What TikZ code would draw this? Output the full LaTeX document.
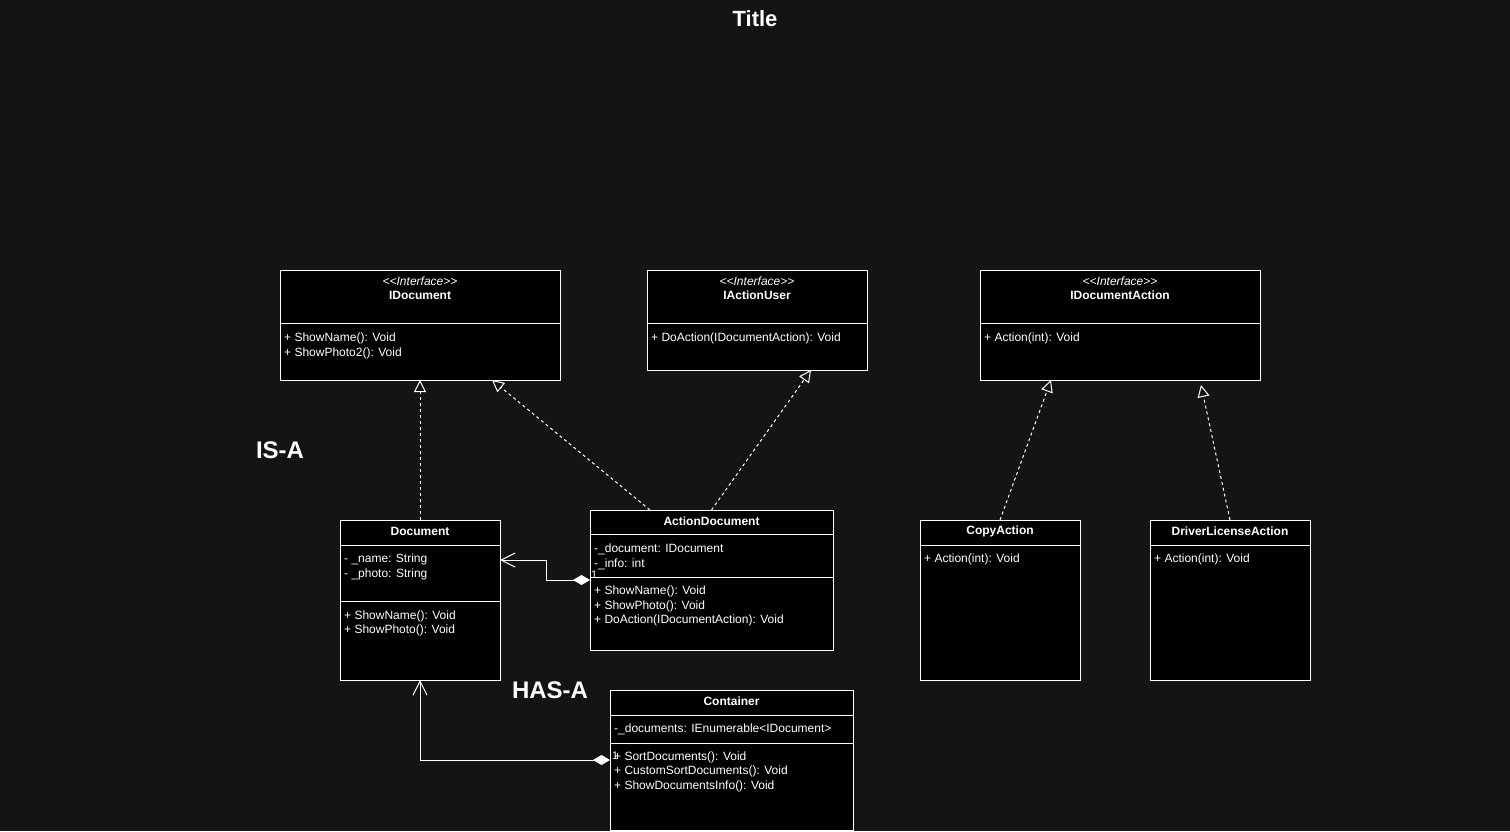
\documentclass[tikz,border=0pt]{standalone}
\usepackage{fontspec}
\setmainfont{Liberation Sans}
\usetikzlibrary{arrows.meta,positioning}
\definecolor{canvas}{HTML}{141414}

\tikzset{
  cls/.style 2 args={draw=white, fill=black, line width=1pt, anchor=north west,
    minimum width=#1, minimum height=#2, inner sep=0pt, outer sep=0pt},
  clsname/.style={text=white, inner sep=0pt, font=\fontsize{12}{14}\selectfont\bfseries},
  stereo/.style={text=white, inner sep=0pt, font=\fontsize{12}{14}\selectfont\itshape},
  member/.style={text=white, inner sep=0pt, anchor=west, yshift=-1pt, font=\fontsize{12}{14}\selectfont},
  mult/.style={text=white, inner sep=0pt, anchor=south west, font=\fontsize{11}{13}\selectfont},
  divider/.style={draw=white, line width=1pt},
  headline/.style={text=white, inner sep=0pt, font=\fontsize{22}{26}\selectfont\bfseries},
  note/.style={text=white, inner sep=0pt, font=\fontsize{24}{28}\selectfont\bfseries},
  realize/.style={draw=white, line width=1pt, dash pattern=on 3pt off 3pt,
    -{Triangle[open, length=12pt, width=12pt]}},
  compose/.style={draw=white, line width=1pt,
    {Diamond[length=17pt, width=10pt]}-{Straight Barb[length=14pt, width=14pt]}}
}

\begin{document}
\begin{tikzpicture}[x=1pt,y=-1pt]
\fill[canvas] (0,0) rectangle (1510,831);

\node[headline] (title) at (755,19) {Title};
\node[note]     (isA)   at (280,450) {IS-A};
\node[note]     (hasA)  at (550,690) {HAS-A};

% interfaces
\node[cls={280pt}{110pt}] (IDoc) at (280,270) {};
\node[stereo]  (IDocSt)   at (420,281) {<{}<Interface>{}>};
\node[clsname] (IDocName) at (420,295) {IDocument};
\draw[divider] (IDoc.west |- 0,323) -- (IDoc.east |- 0,323);
\node[member]  (IDocM1) at (284,337) {+ ShowName(): Void};
\node[member]  (IDocM2) at (284,352) {+ ShowPhoto2(): Void};

\node[cls={220pt}{100pt}] (IUser) at (647,270) {};
\node[stereo]  (IUserSt)   at (757,281) {<{}<Interface>{}>};
\node[clsname] (IUserName) at (757,295) {IActionUser};
\draw[divider] (IUser.west |- 0,323) -- (IUser.east |- 0,323);
\node[member]  (IUserM1) at (651,337) {+ DoAction(IDocumentAction): Void};

\node[cls={280pt}{110pt}] (IAct) at (980,270) {};
\node[stereo]  (IActSt)   at (1120,281) {<{}<Interface>{}>};
\node[clsname] (IActName) at (1120,295) {IDocumentAction};
\draw[divider] (IAct.west |- 0,323) -- (IAct.east |- 0,323);
\node[member]  (IActM1) at (984,337) {+ Action(int): Void};

% classes
\node[cls={160pt}{160pt}] (Doc) at (340,520) {};
\node[clsname] (DocName) at (420,531) {Document};
\draw[divider] (Doc.west |- 0,545) -- (Doc.east |- 0,545);
\draw[divider] (Doc.west |- 0,601) -- (Doc.east |- 0,601);
\node[member]  (DocA1) at (344,558) {- \_name: String};
\node[member]  (DocA2) at (344,573) {- \_photo: String};
\node[member]  (DocM1) at (344,615) {+ ShowName(): Void};
\node[member]  (DocM2) at (344,629) {+ ShowPhoto(): Void};

\node[cls={243pt}{140pt}] (ActDoc) at (590,510) {};
\node[clsname] (ActDocName) at (711.5,521) {ActionDocument};
\draw[divider] (ActDoc.west |- 0,534) -- (ActDoc.east |- 0,534);
\draw[divider] (ActDoc.west |- 0,577) -- (ActDoc.east |- 0,577);
\node[member]  (ActDocA1) at (594,548) {-\_document: IDocument};
\node[member]  (ActDocA2) at (594,563) {-\_info: int};
\node[member]  (ActDocM1) at (594,590) {+ ShowName(): Void};
\node[member]  (ActDocM2) at (594,605) {+ ShowPhoto(): Void};
\node[member]  (ActDocM3) at (594,619) {+ DoAction(IDocumentAction): Void};

\node[cls={243pt}{140pt}] (Cont) at (610,690) {};
\node[clsname] (ContName) at (731.5,701) {Container};
\draw[divider] (Cont.west |- 0,715) -- (Cont.east |- 0,715);
\draw[divider] (Cont.west |- 0,743) -- (Cont.east |- 0,743);
\node[member]  (ContA1) at (614,728) {-\_documents: IEnumerable<IDocument>};
\node[member]  (ContM1) at (614,756) {+ SortDocuments(): Void};
\node[member]  (ContM2) at (614,770) {+ CustomSortDocuments(): Void};
\node[member]  (ContM3) at (614,785) {+ ShowDocumentsInfo(): Void};

\node[cls={160pt}{160pt}] (Copy) at (920,520) {};
\node[clsname] (CopyName) at (1000,531) {CopyAction};
\draw[divider] (Copy.west |- 0,545) -- (Copy.east |- 0,545);
\node[member]  (CopyM1) at (924,558) {+ Action(int): Void};

\node[cls={160pt}{160pt}] (License) at (1150,520) {};
\node[clsname] (LicenseName) at (1230,531) {DriverLicenseAction};
\draw[divider] (License.west |- 0,545) -- (License.east |- 0,545);
\node[member]  (LicenseM1) at (1154,558) {+ Action(int): Void};

% realizations
\draw[realize] (Doc.north) -- (IDoc.south);
\draw[realize] ([xshift=-61.5pt]ActDoc.north) -- ([xshift=72pt]IDoc.south);
\draw[realize] (ActDoc.north) -- ([xshift=54pt]IUser.south);
\draw[realize] (Copy.north) -- ([xshift=-69pt]IAct.south);
\draw[realize] (License.north) -- ([xshift=81pt,yshift=-5pt]IAct.south);

% compositions
\draw[compose] (ActDoc.west) -- ++(-44,0) |- ([yshift=40pt]Doc.east);
\draw[compose] (Cont.west) -| (Doc.south);
\node[mult] (multAct)  at ([xshift=1pt,yshift=1pt]ActDoc.west) {1};
\node[mult] (multCont) at ([xshift=2pt,yshift=0pt]Cont.west) {1};
\end{tikzpicture}
\end{document}
